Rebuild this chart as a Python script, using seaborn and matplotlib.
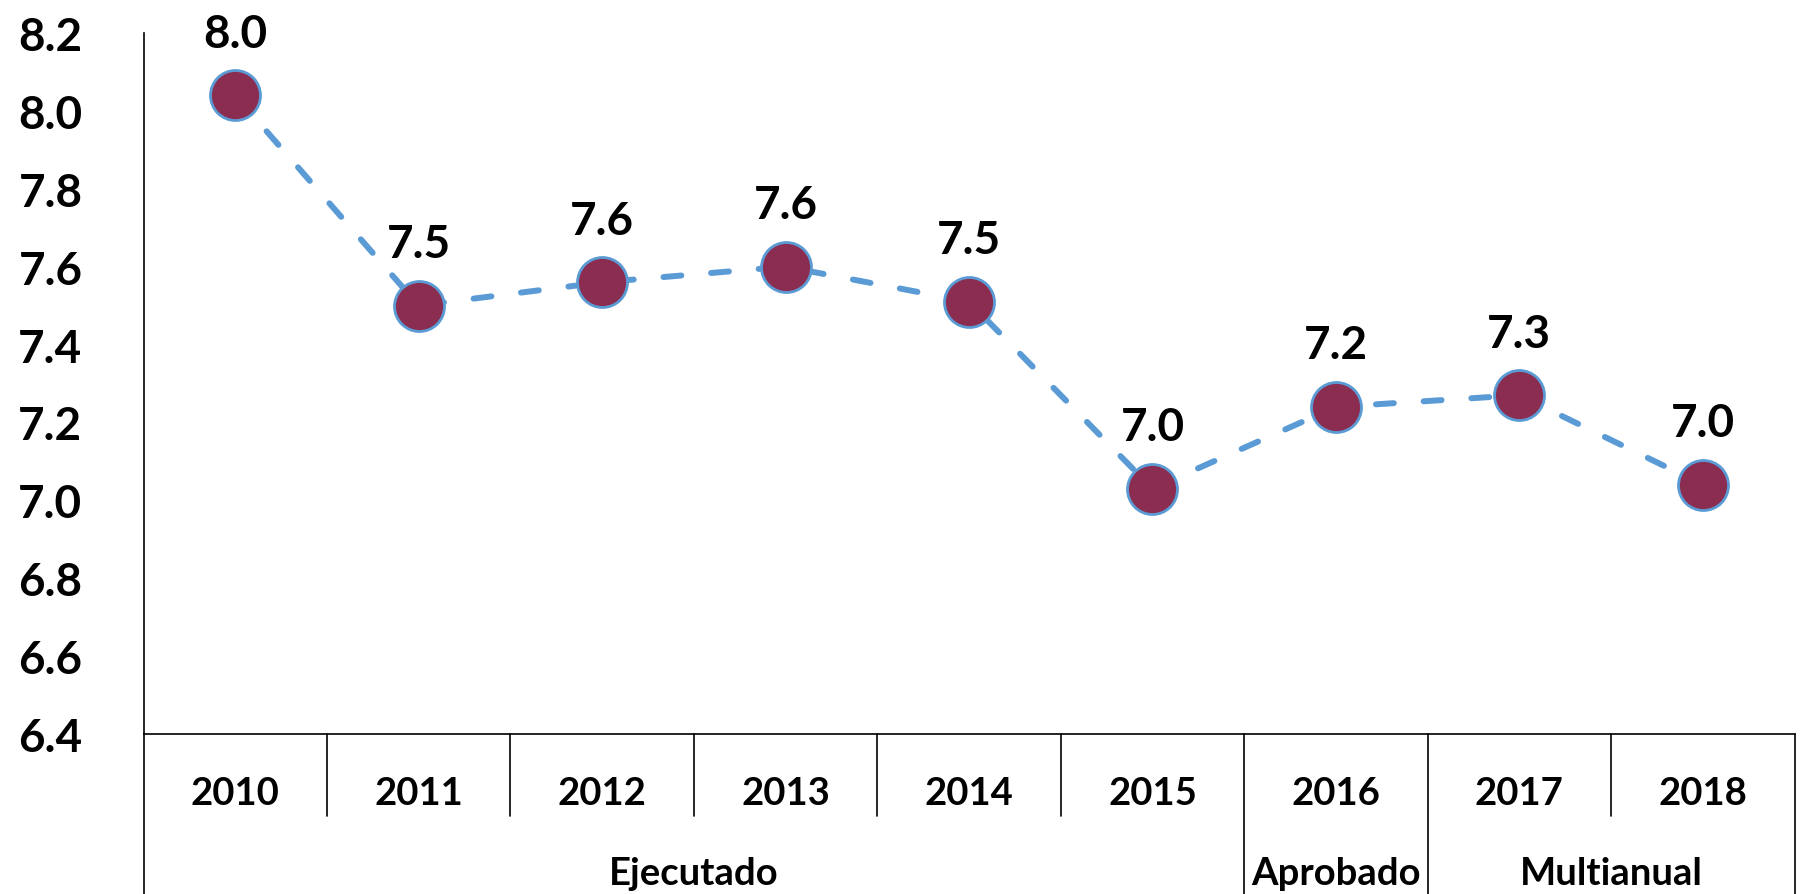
import matplotlib
matplotlib.use("Agg")
import matplotlib.pyplot as plt
import matplotlib.transforms as mtransforms
import seaborn as sns
import pandas as pd
import numpy as np

# ---- data ----
years = ["2010", "2011", "2012", "2013", "2014", "2015", "2016", "2017", "2018"]
values = [8.04, 7.50, 7.56, 7.60, 7.51, 7.03, 7.24, 7.27, 7.04]
value_labels = ["8.0", "7.5", "7.6", "7.6", "7.5", "7.0", "7.2", "7.3", "7.0"]
groups = ["Ejecutado", "Aprobado", "Multianual"]
group_spans = [(0, 5), (6, 6), (7, 8)]
yticks = [6.4, 6.6, 6.8, 7.0, 7.2, 7.4, 7.6, 7.8, 8.0, 8.2]

df = pd.DataFrame({"year": years, "value": values})

sns.set_theme(style="white")
plt.rcParams["font.family"] = ["Lato", "DejaVu Sans"]
plt.rcParams["font.weight"] = "bold"

FW = "bold"
W, H = 1800, 895
fig = plt.figure(figsize=(W / 100, H / 100), dpi=100)
ax_left, ax_right, ax_top, ax_bot = 143.5, 1794.5, 34, 735
ax = fig.add_axes([ax_left / W, (H - ax_bot) / H, (ax_right - ax_left) / W, (ax_bot - ax_top) / H])

line_blue = "#5B9BD5"
marker_fill = "#8B2D50"

sns.lineplot(data=df, x="year", y="value", ax=ax, color=line_blue, linewidth=4.3,
             linestyle=(0, (3.0, 5.0)), dash_capstyle="round", sort=False, zorder=2)
sns.scatterplot(data=df, x="year", y="value", ax=ax, s=1296, color=marker_fill,
                edgecolor=line_blue, linewidth=2.0, zorder=3)

ax.set_xlim(-0.5, len(years) - 0.5)
ax.set_ylim(yticks[0], yticks[-1])
ax.set_yticks(yticks)
ax.set_yticklabels([f"{t:.1f}" for t in yticks], fontsize=33, fontweight=FW)
ax.tick_params(axis="y", length=0, pad=44, labelcolor="black")
ax.tick_params(axis="x", length=0, pad=30, labelsize=27.5, labelcolor="black")
for lab in ax.get_xticklabels():
    lab.set_fontweight(FW)
ax.set_xlabel("")
ax.set_ylabel("")

for s in ["top", "right"]:
    ax.spines[s].set_visible(False)
for s in ["left", "bottom"]:
    ax.spines[s].set_color("black")
    ax.spines[s].set_linewidth(1.2)

# value labels
for i, (v, lab) in enumerate(zip(values, value_labels)):
    ax.annotate(lab, (i, v), xytext=(0, 35), textcoords="offset points",
                ha="center", va="baseline", fontsize=33, fontweight=FW, color="black")

# category table lines below the axis
trans = mtransforms.blended_transform_factory(ax.transData, ax.transAxes)
axh = ax_bot - ax_top
y_year_end = -(817 - ax_bot) / axh
y_fig_bottom = -(H - ax_bot) / axh
group_bounds = set()
for a, b in group_spans:
    group_bounds.add(a - 0.5)
    group_bounds.add(b + 0.5)
for i in range(len(years) + 1):
    xb = i - 0.5
    y_end = y_fig_bottom if xb in group_bounds else y_year_end
    ax.plot([xb, xb], [0, y_end], transform=trans, color="black", linewidth=1.2,
            clip_on=False, zorder=1)

y_group = -(885 - ax_bot) / axh
for name, (a, b) in zip(groups, group_spans):
    ax.text((a + b) / 2, y_group, name, transform=trans, ha="center", va="baseline",
            fontsize=27.5, fontweight=FW, color="black")

fig.savefig("out.png", dpi=100)
